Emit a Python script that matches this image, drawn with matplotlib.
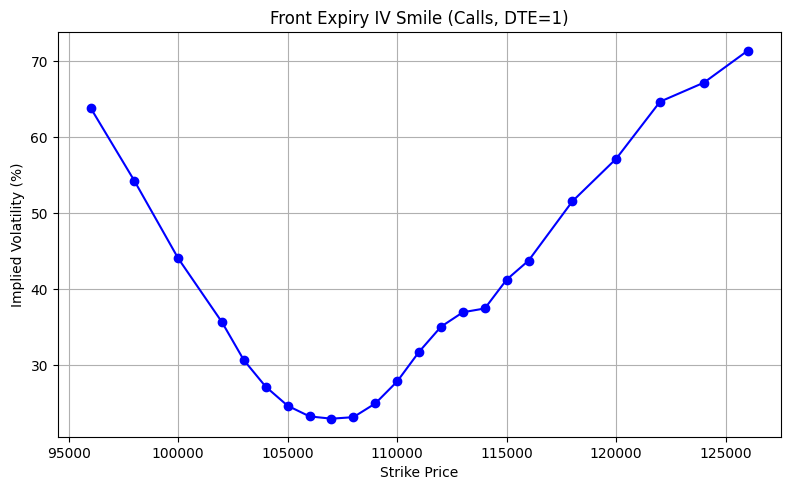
import matplotlib
matplotlib.use("Agg")
import matplotlib.pyplot as plt

# Strikes and implied vols
strikes = [96000, 98000, 100000, 102000, 103000, 104000, 105000, 106000, 107000,
           108000, 109000, 110000, 111000, 112000, 113000, 114000, 115000, 116000,
           118000, 120000, 122000, 124000, 126000]
iv = [63.9, 54.3, 44.1, 35.7, 30.7, 27.2, 24.7, 23.3, 23.0,
      23.2, 25.0, 27.9, 31.8, 35.1, 37.0, 37.5, 41.3, 43.8,
      51.6, 57.2, 64.7, 67.2, 71.4]

fig, ax = plt.subplots(figsize=(7.9, 4.9), dpi=100)
ax.plot(strikes, iv, marker='o', color='blue', linestyle='-')

ax.set_title('Front Expiry IV Smile (Calls, DTE=1)')
ax.set_xlabel('Strike Price')
ax.set_ylabel('Implied Volatility (%)')
ax.grid(True)

fig.subplots_adjust(left=0.073, right=0.988, bottom=0.108, top=0.934)
plt.savefig('out.png')
